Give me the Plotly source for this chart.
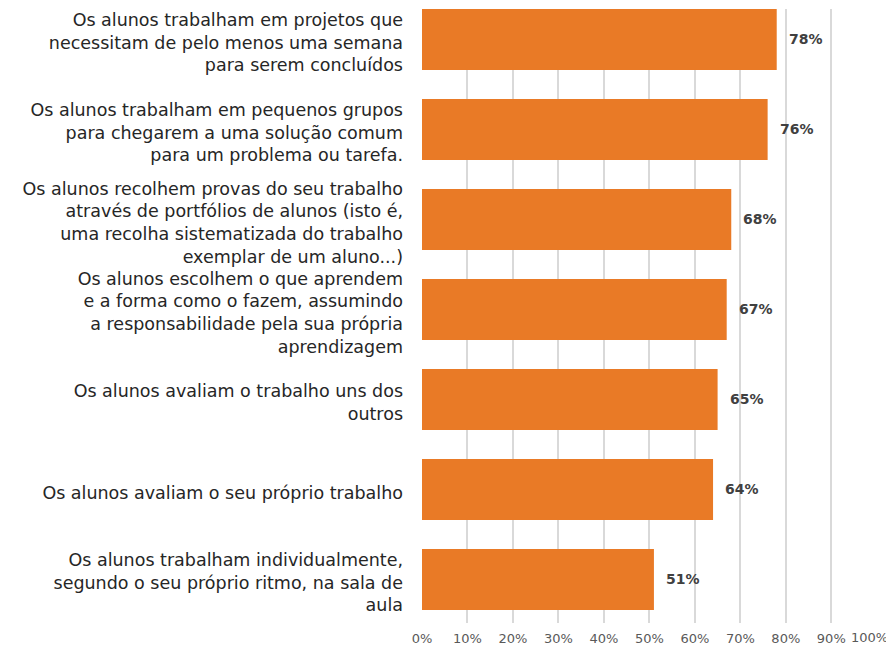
import plotly.graph_objects as go

categories = [
    "Os alunos trabalham em projetos que<br>necessitam de pelo menos uma semana<br>para serem concluídos",
    "Os alunos trabalham em pequenos grupos<br>para chegarem a uma solução comum<br>para um problema ou tarefa.",
    "Os alunos recolhem provas do seu trabalho<br>através de portfólios de alunos (isto é,<br>uma recolha sistematizada do trabalho<br>exemplar de um aluno...)",
    "Os alunos escolhem o que aprendem<br>e a forma como o fazem, assumindo<br>a responsabilidade pela sua própria<br>aprendizagem",
    "Os alunos avaliam o trabalho uns dos<br>outros",
    "Os alunos avaliam o seu próprio trabalho",
    "Os alunos trabalham individualmente,<br>segundo o seu próprio ritmo, na sala de<br>aula",
]
values = [78, 76, 68, 67, 65, 64, 51]
value_labels = ["78%", "76%", "68%", "67%", "65%", "64%", "51%"]
tick_vals = [0, 10, 20, 30, 40, 50, 60, 70, 80, 90, 100]
tick_text = ["0%", "10%", "20%", "30%", "40%", "50%", "60%", "70%", "80%", "90%", "100%"]

fig = go.Figure()
fig.add_trace(go.Bar(
    y=categories,
    x=values,
    orientation="h",
    marker=dict(color="#E97A26", line=dict(width=0)),
    hoverinfo="skip",
))

for c, v, t in zip(categories, values, value_labels):
    fig.add_annotation(
        x=v, y=c, text="<b>" + t + "</b>", showarrow=False,
        xanchor="left", xshift=10, yshift=1,
        font=dict(family="DejaVu Sans", size=14, color="#404040"),
    )

# last tick label is drawn right-aligned so it stays inside the page (as in the original)
fig.add_annotation(
    x=tick_vals[-1], y=0, xref="x", yref="paper",
    text=tick_text[-1], showarrow=False,
    xanchor="right", yanchor="middle", xshift=13, yshift=-14,
    font=dict(family="DejaVu Sans", size=13, color="#595959"),
)

# page body has an 8px margin, so the figure is sized/offset to compensate
fig.update_layout(
    width=886, height=639,
    margin=dict(l=414, r=17, t=1, b=24, autoexpand=False),
    paper_bgcolor="white", plot_bgcolor="white",
    showlegend=False,
    bargap=0.322,
    font=dict(family="DejaVu Sans", color="#262626"),
)
fig.update_xaxes(
    range=[0, 100.05],
    tickvals=tick_vals, ticktext=tick_text[:-1] + [""],
    showgrid=True, gridcolor="#D9D9D9", gridwidth=1.5,
    zeroline=False, showline=False,
    tickfont=dict(family="DejaVu Sans", size=13, color="#595959"),
    ticklabelstandoff=6,
    automargin=False,
    fixedrange=True,
)
fig.update_yaxes(
    type="category",
    categoryorder="array", categoryarray=categories,
    range=[6.483, -0.339],
    showgrid=False, zeroline=False, showline=False,
    tickfont=dict(family="DejaVu Sans", size=17.5, color="#262626"),
    ticklabelstandoff=18,
    ticklabelshift=-3,
    automargin=False,
    fixedrange=True,
)

fig.write_html("out.html")
